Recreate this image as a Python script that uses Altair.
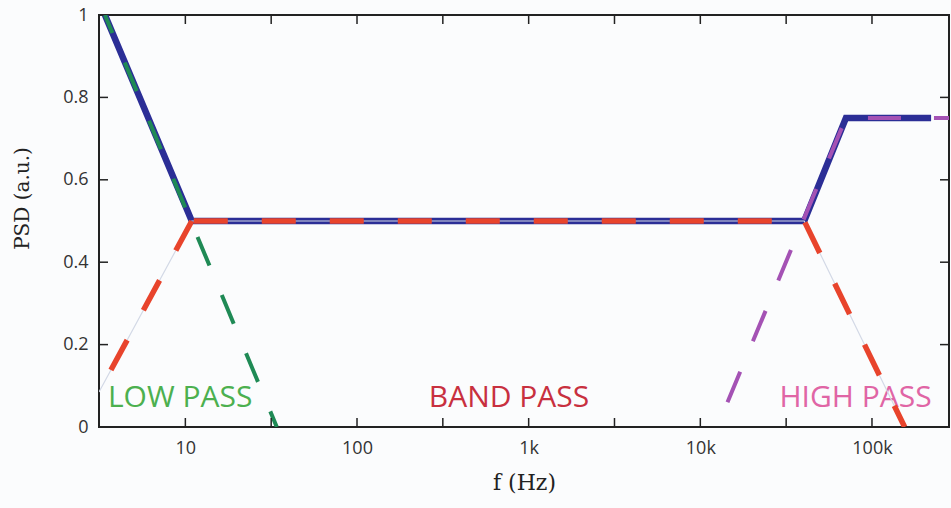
import altair as alt
import pandas as pd

# ---- data ----
blue_f = [3.4, 10.9, 40300, 70500, 221000]
blue_psd = [1.0, 0.5, 0.5, 0.75, 0.75]
# red band-pass line: rising piece (seg 0) and flat + falling piece (seg 1)
red_f = [3.14, 10.9, 10.9, 40300, 155000]
red_psd = [0.085, 0.5, 0.5, 0.5, 0.0]
red_seg = [0, 0, 1, 1, 1]
green_f = [3.4, 34.1]
green_psd = [1.0, 0.0]
purple_f = [14400, 70500, 281000]
purple_psd = [0.06, 0.75, 0.75]

label_text = ["LOW PASS", "BAND PASS", "HIGH PASS"]
label_f = [3.54, 262, 28900]
label_psd = [0.049, 0.049, 0.049]
label_colors = ["#4cb04f", "#c8303f", "#e065a5"]

x_major = [10, 100, 1000, 10000, 100000]
x_major_labels = ["10", "100", "1k", "10k", "100k"]
x_minor = [31.62, 316.2, 3162, 31623]
y_ticks = [0, 0.2, 0.4, 0.6, 0.8, 1.0]

x_domain = [3.14, 281000]
y_domain = [0, 1]

W, H, TICK = 850, 412, 9

# ---- helpers ----
xs = alt.Scale(type="log", domain=x_domain, nice=False)
ys = alt.Scale(domain=y_domain, nice=False)

label_expr = " : ".join(
    f"datum.value == {v} ? '{t}'" for v, t in zip(x_major, x_major_labels)
) + " : ''"

tick_common = dict(domain=False, grid=False, ticks=False)

x_axis = alt.Axis(orient="bottom", values=x_major + x_minor, labelExpr=label_expr,
                  labelFont="Open Sans", labelFontSize=18, labelColor="#333",
                  labelPadding=12, labelFlush=False, labelOverlap=False,
                  title="f (Hz)", titleFont="DejaVu Serif", titleFontSize=22,
                  titleFontWeight="normal", titleColor="#222", titlePadding=15,
                  **tick_common)
y_axis = alt.Axis(orient="left", values=y_ticks, format="~g",
                  labelFont="Open Sans", labelFontSize=18, labelColor="#333",
                  labelPadding=11, labelFlush=False,
                  title="PSD (a.u.)", titleFont="DejaVu Serif", titleFontSize=20,
                  titleFontWeight="normal", titleColor="#222", titlePadding=30,
                  titleY=183, **tick_common)

X = alt.X("f:Q", scale=xs, axis=x_axis)
Y = alt.Y("psd:Q", scale=ys, axis=y_axis)


def line(df, color, width, dash=None, dash_offset=0):
    kw = dict(color=color, strokeWidth=width, clip=True, strokeCap="butt")
    if dash is not None:
        kw["strokeDash"] = dash
        kw["strokeDashOffset"] = dash_offset
    return alt.Chart(df).mark_line(**kw).encode(x=X, y=Y)


blue_df = pd.DataFrame({"f": blue_f, "psd": blue_psd})
red_df = pd.DataFrame({"f": red_f, "psd": red_psd, "seg": red_seg})
green_df = pd.DataFrame({"f": green_f, "psd": green_psd})
purple_df = pd.DataFrame({"f": purple_f, "psd": purple_psd})

labels_df = pd.DataFrame({"t": label_text, "f": label_f, "psd": label_psd,
                          "c": label_colors})
text = alt.Chart(labels_df).mark_text(
    font="Open Sans", fontSize=30, align="left", baseline="alphabetic"
).encode(
    x=X, y=Y,
    text="t:N",
    color=alt.Color("c:N", scale=None),
)

# inward tick marks on all four sides of the frame (matlab style box)
XT = alt.X("tf:Q", scale=xs, axis=x_axis)
YT = alt.Y("tp:Q", scale=ys, axis=y_axis)
xt_df = pd.DataFrame({"tf": x_major + x_minor})
yt_df = pd.DataFrame({"tp": y_ticks[1:-1]})
tick_style = dict(color="#222", strokeWidth=1.5)
ticks_bottom = alt.Chart(xt_df).mark_rule(**tick_style).encode(
    x=XT, y=alt.value(H), y2=alt.value(H - TICK))
ticks_top = alt.Chart(xt_df).mark_rule(**tick_style).encode(
    x=XT, y=alt.value(0), y2=alt.value(TICK))
ticks_left = alt.Chart(yt_df).mark_rule(**tick_style).encode(
    y=YT, x=alt.value(0), x2=alt.value(TICK))
ticks_right = alt.Chart(yt_df).mark_rule(**tick_style).encode(
    y=YT, x=alt.value(W), x2=alt.value(W - TICK))

blue = line(blue_df, "#2b2e96", 6.5)
red_thin = line(red_df, "#d3d9e6", 1.2)
red0 = line(red_df[red_df.seg == 0], "#e8442c", 5.5, dash=[34, 34], dash_offset=43)
red1 = line(red_df[red_df.seg == 1], "#e8442c", 5.5, dash=[34, 34], dash_offset=66)
green = line(green_df, "#1f8a55", 4, dash=[31, 32], dash_offset=11.5)
purple = line(purple_df, "#a452b4", 4, dash=[33, 33])

chart = alt.layer(
    blue, text, red_thin, red0, red1, green, purple,
    ticks_bottom, ticks_top, ticks_left, ticks_right,
).properties(
    width=W, height=H,
    autosize=alt.AutoSizeParams(type="none"),
    padding={"left": 99, "top": 15, "right": 2, "bottom": 81},
    background="#fbfcfd",
).configure_view(stroke="#222", strokeWidth=2)

chart.save("out.html", embed_options={"renderer": "svg", "actions": False})
